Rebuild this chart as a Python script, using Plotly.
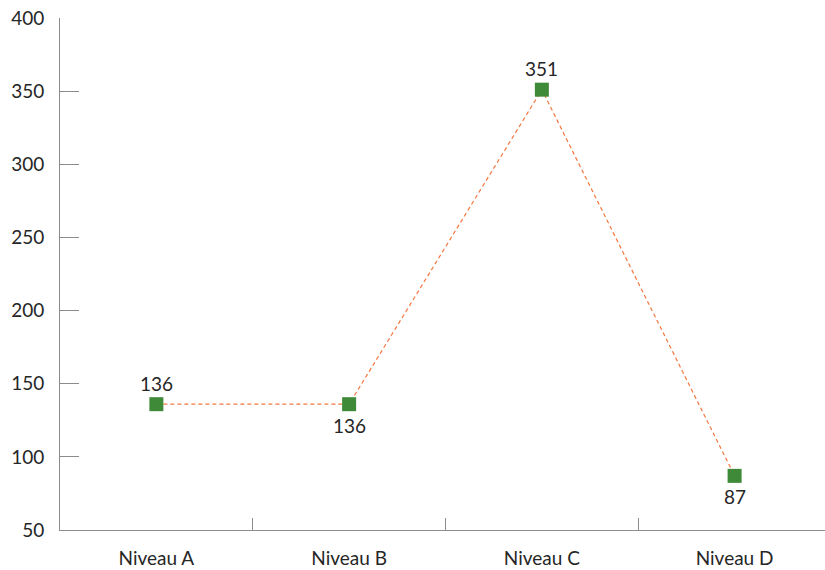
import plotly.graph_objects as go

categories = ["Niveau A", "Niveau B", "Niveau C", "Niveau D"]
values = [136, 136, 351, 87]
label_above = [True, False, True, False]
y_ticks = [50, 100, 150, 200, 250, 300, 350, 400]

font_family = "Lato, Open Sans, sans-serif"
axis_color = "#8c8c8c"
text_color = "#262626"

fig = go.Figure()
fig.add_trace(go.Scatter(
    x=categories,
    y=values,
    mode="lines+markers",
    line=dict(color="#f4773f", width=1.2, dash="4px,3px"),
    marker=dict(symbol="square", size=14, color="#3f8a38"),
    cliponaxis=False,
    showlegend=False,
))

# value labels, placed above or below each marker
for cat, val, above in zip(categories, values, label_above):
    fig.add_annotation(
        x=cat,
        y=val,
        text=str(val),
        showarrow=False,
        xanchor="center",
        yanchor="middle",
        yshift=21 if above else -21,
        font=dict(family=font_family, size=19, color=text_color),
    )

fig.update_layout(
    width=825,
    height=570,
    margin=dict(l=60, r=0, t=18, b=40),
    paper_bgcolor="white",
    plot_bgcolor="white",
    font=dict(family=font_family, size=19, color=text_color),
    xaxis=dict(
        type="category",
        range=[-0.5, 3.469],
        showline=True,
        linecolor=axis_color,
        linewidth=1,
        showgrid=False,
        zeroline=False,
        ticks="inside",
        tickson="boundaries",
        ticklen=12,
        tickcolor=axis_color,
        ticklabelstandoff=11,
        tickfont=dict(family=font_family, size=19, color=text_color),
    ),
    yaxis=dict(
        range=[50, 400],
        tickvals=y_ticks,
        showline=True,
        linecolor=axis_color,
        linewidth=1,
        showgrid=False,
        zeroline=False,
        ticks="inside",
        ticklen=19,
        tickcolor=axis_color,
        ticklabelstandoff=11,
        tickfont=dict(family=font_family, size=19, color=text_color),
    ),
)

fig.write_html("out.html")
